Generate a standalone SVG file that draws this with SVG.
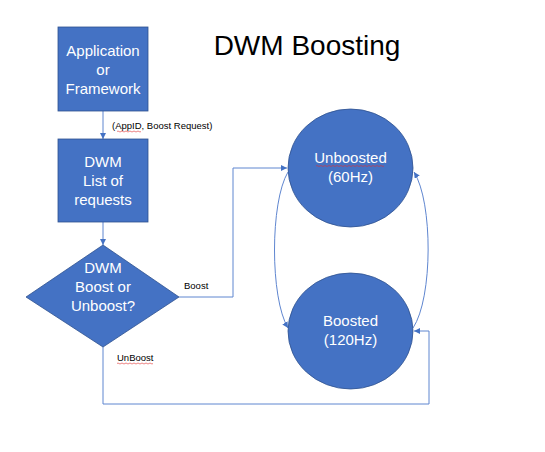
<svg xmlns="http://www.w3.org/2000/svg" width="545" height="452" viewBox="0 0 545 452">
<style>
.node{fill:#4472C4;stroke:#2F528F;stroke-width:0.8}
.nt{font-family:"Liberation Sans",Arial,sans-serif;font-size:15px;fill:#ffffff;text-anchor:middle}
.lbl{font-family:"Liberation Sans",Arial,sans-serif;font-size:9.5px;fill:#000000}
.con{fill:none;stroke:#5F86D0;stroke-width:1}
.sq{fill:none;stroke:#E03030;stroke-width:0.6}
</style>
<defs>
<marker id="ah" viewBox="0 0 10 10" refX="10" refY="5" markerWidth="6" markerHeight="6" orient="auto" markerUnits="userSpaceOnUse">
<path d="M0,0 L10,5 L0,10 z" fill="#4472C4"/>
</marker>
</defs>
<rect width="545" height="452" fill="#ffffff"/>
<text x="307" y="55" font-family="'Liberation Sans',Arial,sans-serif" font-size="28" text-anchor="middle" fill="#000000">DWM Boosting</text>
<g id="connectors">
<path class="con" d="M103,111 L103,139" marker-end="url(#ah)"/>
<path class="con" d="M103,222 L103,245" marker-end="url(#ah)"/>
<path class="con" d="M179,297 L233,297 L233,168 L287,168" marker-end="url(#ah)"/>
<path class="con" d="M103,347 L103,404 L429,404 L429,331 L414,331" marker-end="url(#ah)"/>
<path class="con" d="M288,172 C270,202 270,298 288,328" marker-end="url(#ah)"/>
<path class="con" d="M413,328 C433,298 433,202 414,172" marker-end="url(#ah)"/>
<text class="lbl" x="112" y="129">(AppID, Boost Request)</text>
<path class="sq" d="M117,131.5 q1,-1 2,0 t2,0 t2,0 t2,0 t2,0 t2,0 t2,0 t2,0 t2,0 t2,0 t2,0 t2,0"/>
<text class="lbl" x="184" y="289">Boost</text>
<text class="lbl" x="117" y="361">UnBoost</text>
<path class="sq" d="M117,363.5 q1,-1 2,0 t2,0 t2,0 t2,0 t2,0 t2,0 t2,0 t2,0 t2,0 t2,0 t2,0 t2,0 t2,0 t2,0 t2,0 t2,0 t2,0 t2,0"/>
</g>
<g id="app">
<rect class="node" x="58" y="27" width="90" height="84"/>
<text class="nt" x="103" y="56">Application</text>
<text class="nt" x="103" y="75">or</text>
<text class="nt" x="103" y="94">Framework</text>
</g>
<g id="list">
<rect class="node" x="58" y="139" width="90" height="83"/>
<text class="nt" x="103" y="167">DWM</text>
<text class="nt" x="103" y="186">List of</text>
<text class="nt" x="103" y="205">requests</text>
</g>
<g id="decision">
<polygon class="node" points="103,245 179,297 103,347 26,297"/>
<text class="nt" x="103" y="273">DWM</text>
<text class="nt" x="103" y="292">Boost or</text>
<text class="nt" x="103" y="311">Unboost?</text>
</g>
<g id="unboosted">
<ellipse class="node" cx="350.5" cy="168" rx="62.5" ry="59"/>
<text class="nt" x="350.5" y="163">Unboosted</text>
<path class="sq" d="M316,166 q1,-1 2,0 t2,0 t2,0 t2,0 t2,0 t2,0 t2,0 t2,0 t2,0 t2,0 t2,0 t2,0 t2,0 t2,0 t2,0 t2,0 t2,0 t2,0 t2,0 t2,0 t2,0 t2,0 t2,0 t2,0 t2,0 t2,0 t2,0 t2,0 t2,0 t2,0 t2,0 t2,0 t2,0 t2,0"/>
<text class="nt" x="350.5" y="182">(60Hz)</text>
</g>
<g id="boosted">
<ellipse class="node" cx="350.5" cy="331" rx="62.5" ry="58"/>
<text class="nt" x="350.5" y="326">Boosted</text>
<text class="nt" x="350.5" y="345">(120Hz)</text>
</g>
</svg>
